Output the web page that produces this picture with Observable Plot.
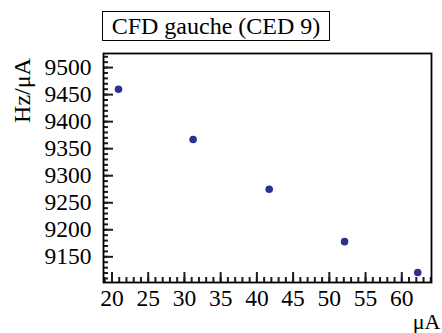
<!DOCTYPE html>
<html><head><meta charset="utf-8">
<script src="https://cdn.jsdelivr.net/npm/d3@7"></script>
<script src="https://cdn.jsdelivr.net/npm/@observablehq/plot@0.6"></script>
</head><body style="margin:0;background:#fff;">
<div style="position:relative;width:442px;height:51px;"><div id="title" style="position:absolute;left:102px;top:11px;width:226px;height:28px;border:1.5px solid #000;font-family:'Liberation Serif';font-size:24px;line-height:28px;text-align:center;color:#000;white-space:nowrap;"></div></div>
<div id="chart"></div>
<script>
const titleText = "CFD gauche (CED 9)";
const current = [20.9, 31.2, 41.7, 52.1, 62.2];
const rate = [9460, 9367, 9275, 9178, 9121];
const xTicks = [20, 25, 30, 35, 40, 45, 50, 55, 60];
const yTicks = [9150, 9200, 9250, 9300, 9350, 9400, 9450, 9500];
const xMinor = d3.range(19, 65, 1);
const yMinor = d3.range(9110, 9530, 10);
const yLabel = "Hz/\u03bcA";
const xLabel = "\u03bcA";

document.getElementById("title").textContent = titleText;
const data = current.map((x, i) => ({x, y: rate[i]}));

const xDom = [18.83, 64.1], yDom = [9102.5, 9526];
const plotW = 442 - 103 - 11, plotH = 282 - 2 - 51;
const yPx = plotH / (yDom[1] - yDom[0]);
const xPx = plotW / (xDom[1] - xDom[0]);
const tickColor = "#1c1c2a";

const chart = Plot.plot({
  width: 442, height: 282,
  marginLeft: 103, marginRight: 11, marginTop: 2, marginBottom: 51,
  style: {fontFamily: "Liberation Serif", fontSize: "23.5px"},
  x: {domain: xDom},
  y: {domain: yDom},
  marks: [
    Plot.ruleX(xMinor, {x: d => d, y1: yDom[0], y2: yDom[0] + 5 / yPx, stroke: tickColor, strokeWidth: 2}),
    Plot.ruleX(xTicks, {x: d => d, y1: yDom[0], y2: yDom[0] + 10 / yPx, stroke: tickColor, strokeWidth: 2}),
    Plot.ruleY(yMinor, {y: d => d, x1: xDom[0], x2: xDom[0] + 5 / xPx, stroke: tickColor, strokeWidth: 2}),
    Plot.ruleY(yTicks, {y: d => d, x1: xDom[0], x2: xDom[0] + 10 / xPx, stroke: tickColor, strokeWidth: 2}),
    Plot.axisX({ticks: xTicks, tickSize: 0, tickPadding: 7, fontSize: 23.5, tickFormat: d => String(d), label: null}),
    Plot.axisY({ticks: yTicks, tickSize: 0, tickPadding: 12, fontSize: 23.5, tickFormat: d => String(d), label: null}),
    Plot.dot(data, {x: "x", y: "y", r: 3.8, fill: "#2e3192", stroke: null}),
    Plot.frame({strokeWidth: 1.8}),
    Plot.text([yLabel], {frameAnchor: "top-left", dx: -81, dy: 37, rotate: -90, fontSize: 24, textAnchor: "middle", lineAnchor: "middle", text: d => d}),
    Plot.text([xLabel], {frameAnchor: "bottom-right", dx: 9, dy: 46, fontSize: 22, textAnchor: "end", lineAnchor: "bottom", text: d => d})
  ]
});
document.getElementById("chart").appendChild(chart);
</script>
</body></html>
